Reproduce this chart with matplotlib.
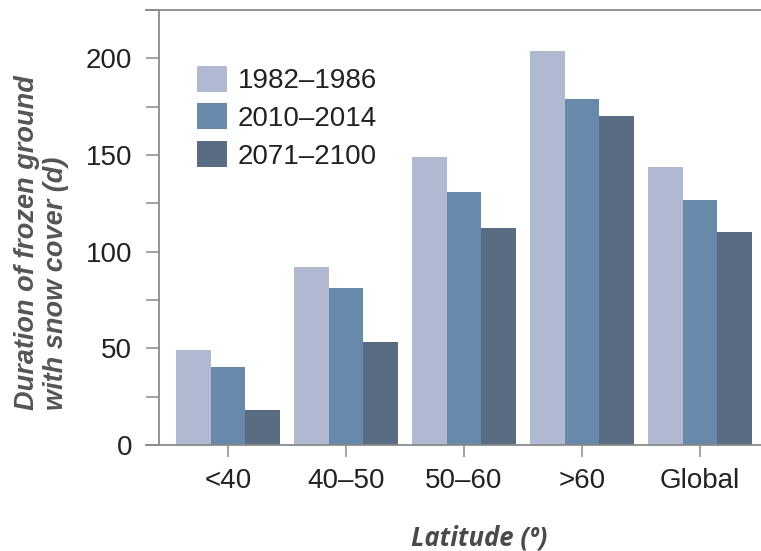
import numpy as np
import matplotlib
matplotlib.use('Agg')
import matplotlib.pyplot as plt
from matplotlib.ticker import MultipleLocator

categories = ['<40', '40–50', '50–60', '>60', 'Global']
periods = ['1982–1986', '2010–2014', '2071–2100']
v1982 = [49, 92, 149, 204, 144]
v2010 = [40.5, 81, 131, 179, 126.5]
v2071 = [18, 53.5, 112.5, 170, 110]
colors = ['#b0b9d0', '#6989ab', '#596c82']

plt.rcParams['font.family'] = ['Liberation Sans', 'DejaVu Sans']

fig = plt.figure(figsize=(7.61, 5.51), dpi=100)
ax = fig.add_axes([146/761, 106/551, 615/761, 435/551])

x = np.arange(len(categories))
w = 0.295
for i, (vals, lab) in enumerate(zip([v1982, v2010, v2071], periods)):
    ax.bar(x + (i - 1) * w, vals, width=w, color=colors[i], label=lab, zorder=2)

ax.set_xlim(-0.695, 4.517)
ax.set_ylim(0, 225)
ax.yaxis.set_major_locator(MultipleLocator(50))
ax.yaxis.set_minor_locator(MultipleLocator(25))
ax.set_xticks(x)
ax.set_xticklabels(categories)

gray = '#8a8a8a'
ax.spines['right'].set_visible(False)
for s in ['left', 'top', 'bottom']:
    ax.spines[s].set_color(gray)
    ax.spines[s].set_linewidth(1.3)
ax.spines['left'].set_position(('data', -0.585))

ax.tick_params(axis='y', which='both', length=9.5, width=1.1, color=gray,
               pad=10, labelsize=20, labelcolor='#222222')
ax.tick_params(axis='x', length=8.5, width=1.1, color=gray,
               pad=8, labelsize=20, labelcolor='#222222')

leg = ax.legend(loc='upper left', bbox_to_anchor=(0.083, 0.872), frameon=False,
                fontsize=20, handlelength=1.07, handleheight=1.07,
                handletextpad=0.4, labelspacing=0.33, borderaxespad=0,
                borderpad=0)
for t in leg.get_texts():
    t.set_color('#222222')

fig.text(42/761, 1 - 410/551, 'Duration of frozen ground\nwith snow cover (d)',
         rotation=90, ha='center', va='bottom', multialignment='left',
         linespacing=1.15, fontsize=19.5, fontweight='bold', style='italic',
         color='#555555')
fig.text(479/761, 1 - 538/551, 'Latitude (º)', ha='center', va='center',
         family=['Open Sans', 'DejaVu Sans'], fontweight='bold', style='italic',
         color='#4a4a4a', fontsize=18.5)

fig.savefig('out.png', dpi=100)
